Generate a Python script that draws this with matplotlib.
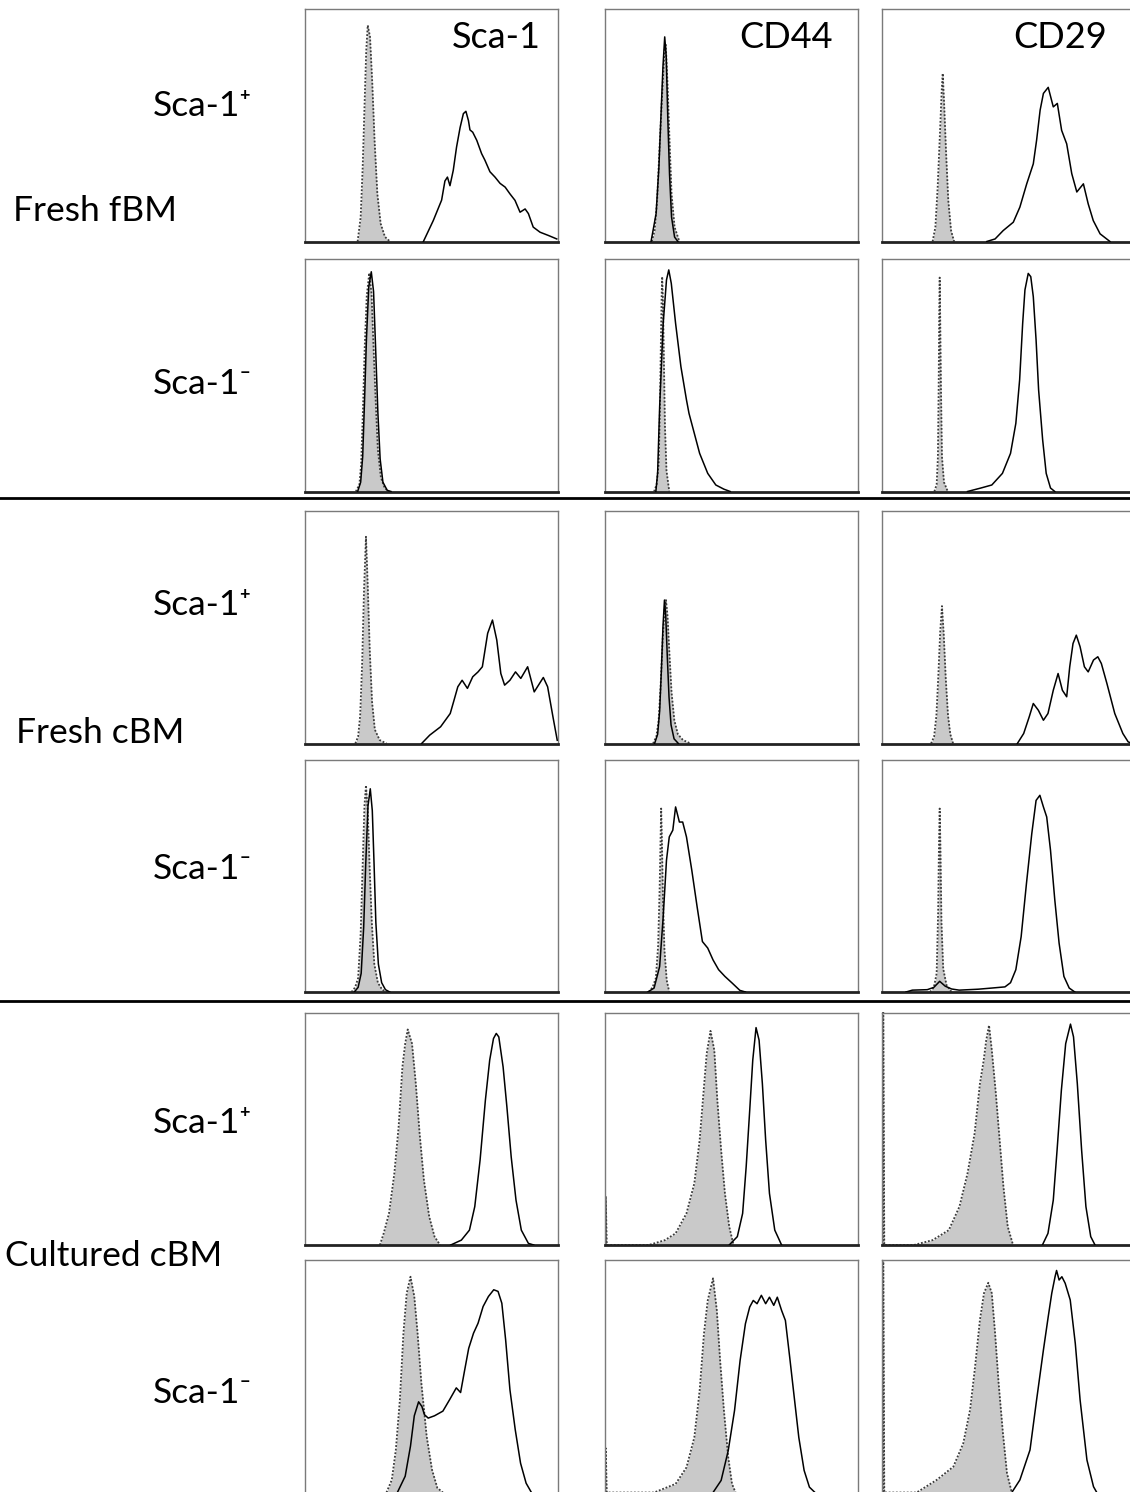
import matplotlib.pyplot as plt

# ---- data: (channel, % of panel height) ----
# rows: fresh fBM Sca-1+/-, fresh cBM Sca-1+/-, cultured cBM Sca-1+/-
# cols: Sca-1, CD44, CD29 ; iso = grey isotype control, stain = black line
markers = ['Sca-1', 'CD44', 'CD29']
groups = ['Fresh fBM', 'Fresh cBM', 'Cultured cBM']
subsets = ['Sca-1\u207a', 'Sca-1\u207b']

iso_fbm_pos_sca1 = [(20.8, 0), (22.0, 10.5), (22.8, 32), (23.6, 61), (24.2, 82), (24.8, 93), (25.7, 88), (26.6, 68),
                    (27.5, 43.5), (28.6, 20.5), (29.9, 7.7), (31.6, 2), (33.6, 0)]
stain_fbm_pos_sca1 = [(46.8, 0), (50.7, 9), (54, 17.8), (55.3, 26), (56.3, 27.7), (57.3, 24), (58.6, 30.6), (59.9, 40.6),
                      (61.3, 49), (62.6, 55), (63.6, 56), (64.6, 52), (65.2, 48), (66.3, 47), (67.9, 43.5), (69.8, 37.8),
                      (71.1, 35), (73.1, 30), (75.1, 27.7), (77.1, 25), (79.1, 23.4), (81, 20.5), (83, 17.7), (85, 12.6),
                      (87, 14), (88.3, 12), (90.2, 6.2), (92.9, 4), (96.2, 2.6), (99.5, 1.1)]
iso_fbm_pos_cd44 = [(18.7, 0), (19.8, 4.7), (20.8, 17.7), (21.7, 39), (22.8, 63.6), (23.7, 82), (24.2, 85), (24.9, 68),
                    (25.7, 43.5), (26.5, 20.5), (27.7, 6.2), (29.6, 0)]
stain_fbm_pos_cd44 = [(18.4, 0), (20.4, 12), (21.5, 32), (22.3, 53.6), (23.1, 75), (23.8, 88), (24.4, 79.5), (25, 53.6),
                      (25.7, 29), (26.5, 10.5), (27.7, 1.9), (29, 0)]
iso_fbm_pos_cd29 = [(20, 0), (21.1, 6.2), (22, 23.4), (22.9, 46.4), (23.6, 65), (24, 72.3), (24.5, 60.8), (25.3, 39),
                    (26.2, 17.7), (27.3, 4.7), (28.5, 0)]
stain_fbm_pos_cd29 = [(41.4, 0), (44.7, 1.1), (47.9, 4.7), (51.9, 8.3), (54.5, 14.8), (57.2, 24.8), (59.8, 33.4),
                      (61.1, 43.5), (62.5, 56.5), (63.8, 63.7), (65.7, 66.3), (67.7, 57.9), (69.3, 59.4), (71, 47.8),
                      (73, 42), (75, 29.2), (77, 21.3), (79.6, 24.8), (81.5, 16.2), (83.5, 9), (86.2, 3.3), (90.1, 0)]

iso_fbm_neg_sca1 = [(20.1, 0), (21.5, 3), (22.2, 12), (22.9, 35), (23.6, 62), (24.4, 84), (25.4, 94), (26.3, 85),
                    (27.1, 62), (27.9, 40), (28.8, 18), (30, 6), (31.5, 1.5), (33.2, 0)]
stain_fbm_neg_sca1 = [(20.8, 0), (22, 4), (22.8, 15), (23.5, 38), (24.3, 66), (25.2, 88), (26.2, 94.5), (27.1, 86),
                      (27.9, 62), (28.8, 34), (29.7, 14), (30.8, 4), (32.5, 0.5), (34, 0)]
iso_fbm_neg_cd44 = [(19.6, 0), (20.6, 3), (21.4, 12), (21.9, 35), (22.3, 65), (22.6, 85), (22.8, 92.4), (23.1, 82),
                    (23.5, 55), (23.9, 28), (24.5, 9), (25.6, 0)]
stain_fbm_neg_cd44 = [(20.3, 0), (21.0, 8), (21.8, 36.5), (23.2, 72.3), (24.5, 91), (25.4, 95.3), (26.4, 89.5),
                      (28.1, 72.3), (30.2, 53.7), (32.4, 39.4), (33.4, 33.6), (35.5, 25), (37.6, 16.4), (40.8, 7.8),
                      (44, 2.8), (47.2, 1), (49.7, 0)]
iso_fbm_neg_cd29 = [(20.7, 0), (21.6, 3), (22.1, 15), (22.4, 45), (22.6, 75), (22.8, 92), (23.0, 75), (23.3, 45),
                    (23.7, 15), (24.5, 4), (26, 0)]
stain_fbm_neg_cd29 = [(33.8, 0), (39.1, 1.5), (43.4, 2.8), (47.6, 7.8), (50.8, 16.4), (52.9, 29.3), (54.4, 48),
                      (55.6, 72.3), (56.5, 86.7), (57.8, 93.8), (58.8, 92.4), (59.8, 83.8), (60.9, 65.2), (61.9, 43.7),
                      (63.5, 22.2), (64.9, 7.8), (66.6, 1.5), (68.3, 0)]

iso_cbm_pos_sca1 = [(19.9, 0), (21, 3), (21.8, 12), (22.6, 35), (23.3, 65), (24.1, 88.9), (24.8, 68), (25.6, 40),
                    (26.5, 18), (27.6, 6), (29.5, 1.5), (32.2, 0)]
stain_cbm_pos_sca1 = [(46.1, 0), (49.3, 3.6), (53.6, 7.2), (57.4, 12.9), (58.9, 18.6), (60.4, 24.4), (62.1, 27.2),
                      (64.2, 23.7), (66.3, 28.7), (68.4, 30.8), (70.1, 33), (72.2, 47.4), (74.1, 53.1), (75.8, 44.5),
                      (77.4, 30.1), (78.9, 25.1), (81, 27.2), (83.2, 30.8), (85.3, 28), (88, 33), (90.6, 22.2),
                      (94.2, 28.4), (95.9, 24.4), (98, 11.5), (99.7, 1.4)]
iso_cbm_pos_cd44 = [(19.2, 0), (20.5, 3), (21.4, 10), (22.2, 25), (23, 45), (23.8, 58), (24.3, 61.7), (24.9, 55),
                    (25.6, 40), (26.5, 22), (27.6, 10), (29, 4), (31, 1.5), (34, 0)]
stain_cbm_pos_cd44 = [(19.8, 0), (21, 4), (21.8, 14), (22.5, 32), (23.1, 50), (23.7, 61.7), (24.2, 55), (24.8, 38),
                      (25.5, 20), (26.3, 8), (27.5, 2), (29.2, 0)]
iso_cbm_pos_cd29 = [(19.4, 0), (20.6, 3), (21.5, 12), (22.3, 30), (23, 48), (23.7, 59.1), (24.4, 47), (25.2, 28),
                    (26.1, 12), (27, 4), (28.1, 0)]
stain_cbm_pos_cd29 = [(53.5, 0), (56, 4.3), (58.2, 11.5), (59.8, 17.2), (61.8, 14.3), (63.8, 10), (65.6, 12.9),
                      (67.7, 22.9), (69.6, 30.1), (71.3, 22.9), (73, 20.1), (74.2, 33), (75.5, 43), (76.8, 46.6),
                      (78.3, 41.6), (80, 33), (81.5, 30.8), (83.6, 35.9), (85.3, 37.3), (86.7, 34.4), (88.9, 25.8),
                      (92, 12.9), (95.2, 4.3), (97.3, 0.7), (99, 0)]

iso_cbm_neg_sca1 = [(18.4, 0), (19.8, 2), (21, 6), (22, 25), (22.8, 55), (23.5, 80), (24.1, 88.9), (24.8, 78),
                    (25.5, 55), (26.4, 30), (27.4, 12), (28.8, 4), (30.5, 1), (32.2, 0)]
stain_cbm_neg_sca1 = [(19.5, 0), (21, 2), (22.2, 8), (23.2, 28), (24, 55), (24.9, 80), (25.8, 87.4), (26.6, 78),
                      (27.3, 55), (28, 30), (29, 12), (30.3, 4), (31.8, 1), (33.5, 0)]
iso_cbm_neg_cd44 = [(17.5, 0), (19, 2), (20.3, 6), (21.2, 20), (21.8, 45), (22.2, 68), (22.4, 78.9), (22.7, 65),
                    (23.1, 40), (23.7, 18), (24.6, 5), (25.6, 0)]
stain_cbm_neg_cd44 = [(17.1, 0), (19.6, 1.7), (21.8, 11), (23.2, 32.4), (24.5, 56.7), (25.6, 66.7), (27, 69.6),
                      (28.1, 79.6), (29.6, 73.1), (30.9, 73.1), (32.4, 66.7), (34.5, 52.4), (36.6, 36.7), (38.7, 21.7),
                      (40.8, 18.9), (42.9, 13.8), (45.1, 9.6), (47.6, 6.7), (50.4, 3.9), (53.5, 0.7), (55.7, 0)]
iso_cbm_neg_cd29 = [(19, 0), (20.5, 2), (21.6, 8), (22.2, 35), (22.5, 62), (22.8, 78.9), (23.1, 62), (23.5, 30),
                    (24.2, 10), (25.5, 3), (27.5, 0)]
stain_cbm_neg_cd29 = [(9.5, 0), (12, 0.8), (17.9, 1), (20.5, 2), (22.8, 4.6), (25, 2.5), (27.5, 1.3), (30.5, 0.8),
                      (38, 1.2), (43.4, 1.7), (48.6, 2.2), (50.8, 4), (52.9, 9.6), (55, 23.8), (57.1, 46.7),
                      (59.2, 68.1), (60.9, 82.4), (62.4, 84.6), (63.8, 79.6), (65.1, 75.3), (66.6, 61), (68.3, 39.6),
                      (70, 21), (71.9, 6.7), (74, 1.7), (76.2, 0)]

iso_cul_pos_sca1 = [(29.6, 0), (31.1, 5), (33.2, 13.6), (35.3, 30.7), (37, 50.8), (38.5, 76.6), (39.6, 86.6),
                    (40.6, 92.7), (42.3, 86.6), (43.8, 69.4), (45.3, 48), (47, 27.9), (49.1, 12.2), (51.2, 3.6),
                    (53.4, 0)]
stain_cul_pos_sca1 = [(57.6, 0), (61.8, 2.1), (65, 6.4), (67.1, 16.5), (69.2, 36.5), (71.3, 62.3), (73, 79.5),
                      (74.5, 88.8), (75.6, 91), (76.6, 89.5), (78.3, 76.6), (79.8, 59.4), (81.5, 37.9), (83.4, 19.3),
                      (85.5, 6.4), (88.3, 0.7), (90.4, 0)]
iso_cul_pos_cd44 = [(0.5, 0), (0.5, 21), (0.9, 0), (17.5, 0), (23.9, 2.1), (28.1, 5), (32.4, 13.6), (35.5, 26.5),
                    (37.6, 45.1), (39.1, 65.2), (40.4, 82.4), (41.9, 92.1), (43.4, 83.8), (44.6, 62.3), (46.1, 40.8),
                    (47.6, 22.2), (49.3, 7.9), (51, 0)]
stain_cul_pos_cd44 = [(49.3, 0), (52.5, 3.6), (54.6, 13.6), (56, 33.7), (57.4, 58), (58.6, 79.5), (59.9, 93.5),
                      (61.1, 88.1), (62.4, 69.4), (63.7, 45.1), (65.2, 22.2), (67.3, 6.4), (70, 0)]
iso_cul_pos_cd29 = [(0.5, 0), (0.5, 100), (0.9, 0), (12.6, 0), (20, 2.1), (26.4, 6.4), (30.6, 16.5), (33.8, 30.8),
                    (36.6, 48), (38.7, 69.4), (40.2, 79.5), (41.2, 88.1), (42.3, 94.5), (43.4, 83.8), (45, 65.2),
                    (46.5, 45.1), (48, 25.1), (49.7, 7.9), (51.8, 0)]
stain_cul_pos_cd29 = [(63.4, 0), (65.6, 5), (67.7, 19.3), (69.2, 40.8), (70.9, 66.6), (72.6, 86.6), (74.5, 95),
                      (75.7, 89.5), (77.2, 69.4), (78.9, 40.8), (80.6, 16.5), (82.5, 3.6), (84.2, 0)]

iso_cul_neg_sca1 = [(32.2, 0), (34.3, 5.4), (35.9, 18.3), (37.5, 39.9), (38.9, 68.5), (40.2, 85.7), (41.7, 92.8),
                    (43.2, 84.3), (44.5, 68.5), (46, 47), (48.1, 24.1), (50.2, 9.8), (52.3, 2), (54.5, 0)]
stain_cul_neg_sca1 = [(36.5, 0), (39.6, 7), (41.7, 20), (43.2, 33), (44.9, 39), (46.2, 37), (47.2, 33.5), (48.7, 32),
                      (51.2, 33), (54.5, 35), (57.2, 40), (59.8, 45), (61.5, 43), (63, 52), (64.7, 62), (66.6, 68.5),
                      (68.4, 72.8), (70.4, 80), (72.5, 84.3), (74.6, 87.2), (76.3, 86.5), (77.8, 81.4), (79.3, 65.7),
                      (81, 44.2), (83.1, 27), (85.2, 12.6), (87.4, 4), (89.5, 0)]
iso_cul_neg_cd44 = [(0.5, 0), (0.5, 19), (0.9, 0), (19.6, 0), (28.1, 3.7), (32.4, 10.8), (35.5, 23.7), (37.6, 43.8),
                    (39.3, 68.2), (40.8, 82.6), (42.9, 92.1), (44.4, 78.3), (45.7, 56.8), (47.2, 35.3), (48.9, 15.2),
                    (50.4, 3.7), (51.8, 0)]
stain_cul_neg_cd44 = [(42.9, 0), (46.1, 5.2), (48.9, 18), (51.4, 35.3), (53.6, 56.8), (55.7, 72.6), (57.4, 79.8),
                      (58.8, 82.6), (60.3, 81.2), (62, 84.8), (63.7, 81.2), (65.2, 84), (66.9, 80.5), (68.3, 84),
                      (70, 78.3), (71.5, 74), (73.2, 58.2), (74.7, 43.8), (76.8, 23.7), (78.9, 9.5), (81, 2.3),
                      (83.2, 0)]
iso_cul_neg_cd29 = [(0.5, 0), (0.5, 100), (0.9, 0), (13.7, 0), (21.6, 5.4), (28.2, 11.1), (32.1, 21.1), (34.8, 35.5),
                    (36.8, 54.2), (38.7, 74.2), (40.3, 85.7), (42, 90.2), (43.4, 85.7), (44.7, 68.5), (46.1, 47),
                    (47.8, 25.5), (49.4, 8.3), (51.3, 0)]
stain_cul_neg_cd29 = [(51.3, 0), (54.5, 5.4), (58.5, 18.3), (61.1, 39.8), (63.8, 61.3), (65.7, 75.6), (67.1, 85.7),
                      (68.4, 92.8), (69, 95.5), (70, 91.4), (71.1, 92.8), (72.4, 90), (74.4, 82.8), (76.4, 64.1),
                      (78.3, 39.8), (81, 14), (83.6, 2.5), (84.9, 0)]

panels = [
    [(iso_fbm_pos_sca1, stain_fbm_pos_sca1), (iso_fbm_pos_cd44, stain_fbm_pos_cd44), (iso_fbm_pos_cd29, stain_fbm_pos_cd29)],
    [(iso_fbm_neg_sca1, stain_fbm_neg_sca1), (iso_fbm_neg_cd44, stain_fbm_neg_cd44), (iso_fbm_neg_cd29, stain_fbm_neg_cd29)],
    [(iso_cbm_pos_sca1, stain_cbm_pos_sca1), (iso_cbm_pos_cd44, stain_cbm_pos_cd44), (iso_cbm_pos_cd29, stain_cbm_pos_cd29)],
    [(iso_cbm_neg_sca1, stain_cbm_neg_sca1), (iso_cbm_neg_cd44, stain_cbm_neg_cd44), (iso_cbm_neg_cd29, stain_cbm_neg_cd29)],
    [(iso_cul_pos_sca1, stain_cul_pos_sca1), (iso_cul_pos_cd44, stain_cul_pos_cd44), (iso_cul_pos_cd29, stain_cul_pos_cd29)],
    [(iso_cul_neg_sca1, stain_cul_neg_sca1), (iso_cul_neg_cd44, stain_cul_neg_cd44), (iso_cul_neg_cd29, stain_cul_neg_cd29)],
]

# ---- layout (pixels of a 1130 x 1492 canvas) ----
W, H = 1130, 1492
fig = plt.figure(figsize=(W / 100, H / 100), dpi=100)
font = ['Lato', 'DejaVu Sans']
fs = 25.5

col_left = [305, 604.5, 882]
row_top = [9, 259, 511, 759.5, 1012.5, 1260]
pw, ph = 253, 232.5

for r in range(6):
    for c in range(3):
        ax = fig.add_axes([col_left[c] / W, 1 - (row_top[r] + ph) / H, pw / W, ph / H])
        iso, stain = panels[r][c]
        ix, iy = zip(*iso)
        sx, sy = zip(*stain)
        ax.fill_between(ix, iy, 0, color='#c9c9c9', lw=0, zorder=1)
        ax.plot(ix, iy, color='#3a3a3a', ls=(0, (1, 1)), lw=1.3, zorder=2)
        ax.plot(sx, sy, color='black', lw=1.1, zorder=3)
        ax.set_xlim(0, 100)
        ax.set_ylim(0, 100)
        ax.set_xticks([])
        ax.set_yticks([])
        for side in ['top', 'left', 'right']:
            ax.spines[side].set_color('#7a7a7a')
            ax.spines[side].set_linewidth(1.0)
        ax.spines['bottom'].set_color('#222222')
        ax.spines['bottom'].set_linewidth(2.0)

# column titles inside the top row
for m, xr in zip(markers, [541, 833, 1107]):
    fig.text(xr / W, 1 - 37 / H, m, ha='right', va='center', fontsize=fs + 0.5, family=font)

# row labels
sub_y = [106, 384, 605, 869, 1123, 1393]
for i, yy in enumerate(sub_y):
    fig.text(153 / W, 1 - yy / H, subsets[i % 2], ha='left', va='center', fontsize=fs, family=font)
for g, yy, xx in zip(groups, [211, 733, 1256], [13, 16, 5]):
    fig.text(xx / W, 1 - yy / H, g, ha='left', va='center', fontsize=fs, family=font)

# group separators
for yy in [498, 1001]:
    fig.add_artist(plt.Line2D([0, 1], [1 - yy / H, 1 - yy / H], color='black', lw=2.0))

fig.savefig('out.png', dpi=100, facecolor='white')
